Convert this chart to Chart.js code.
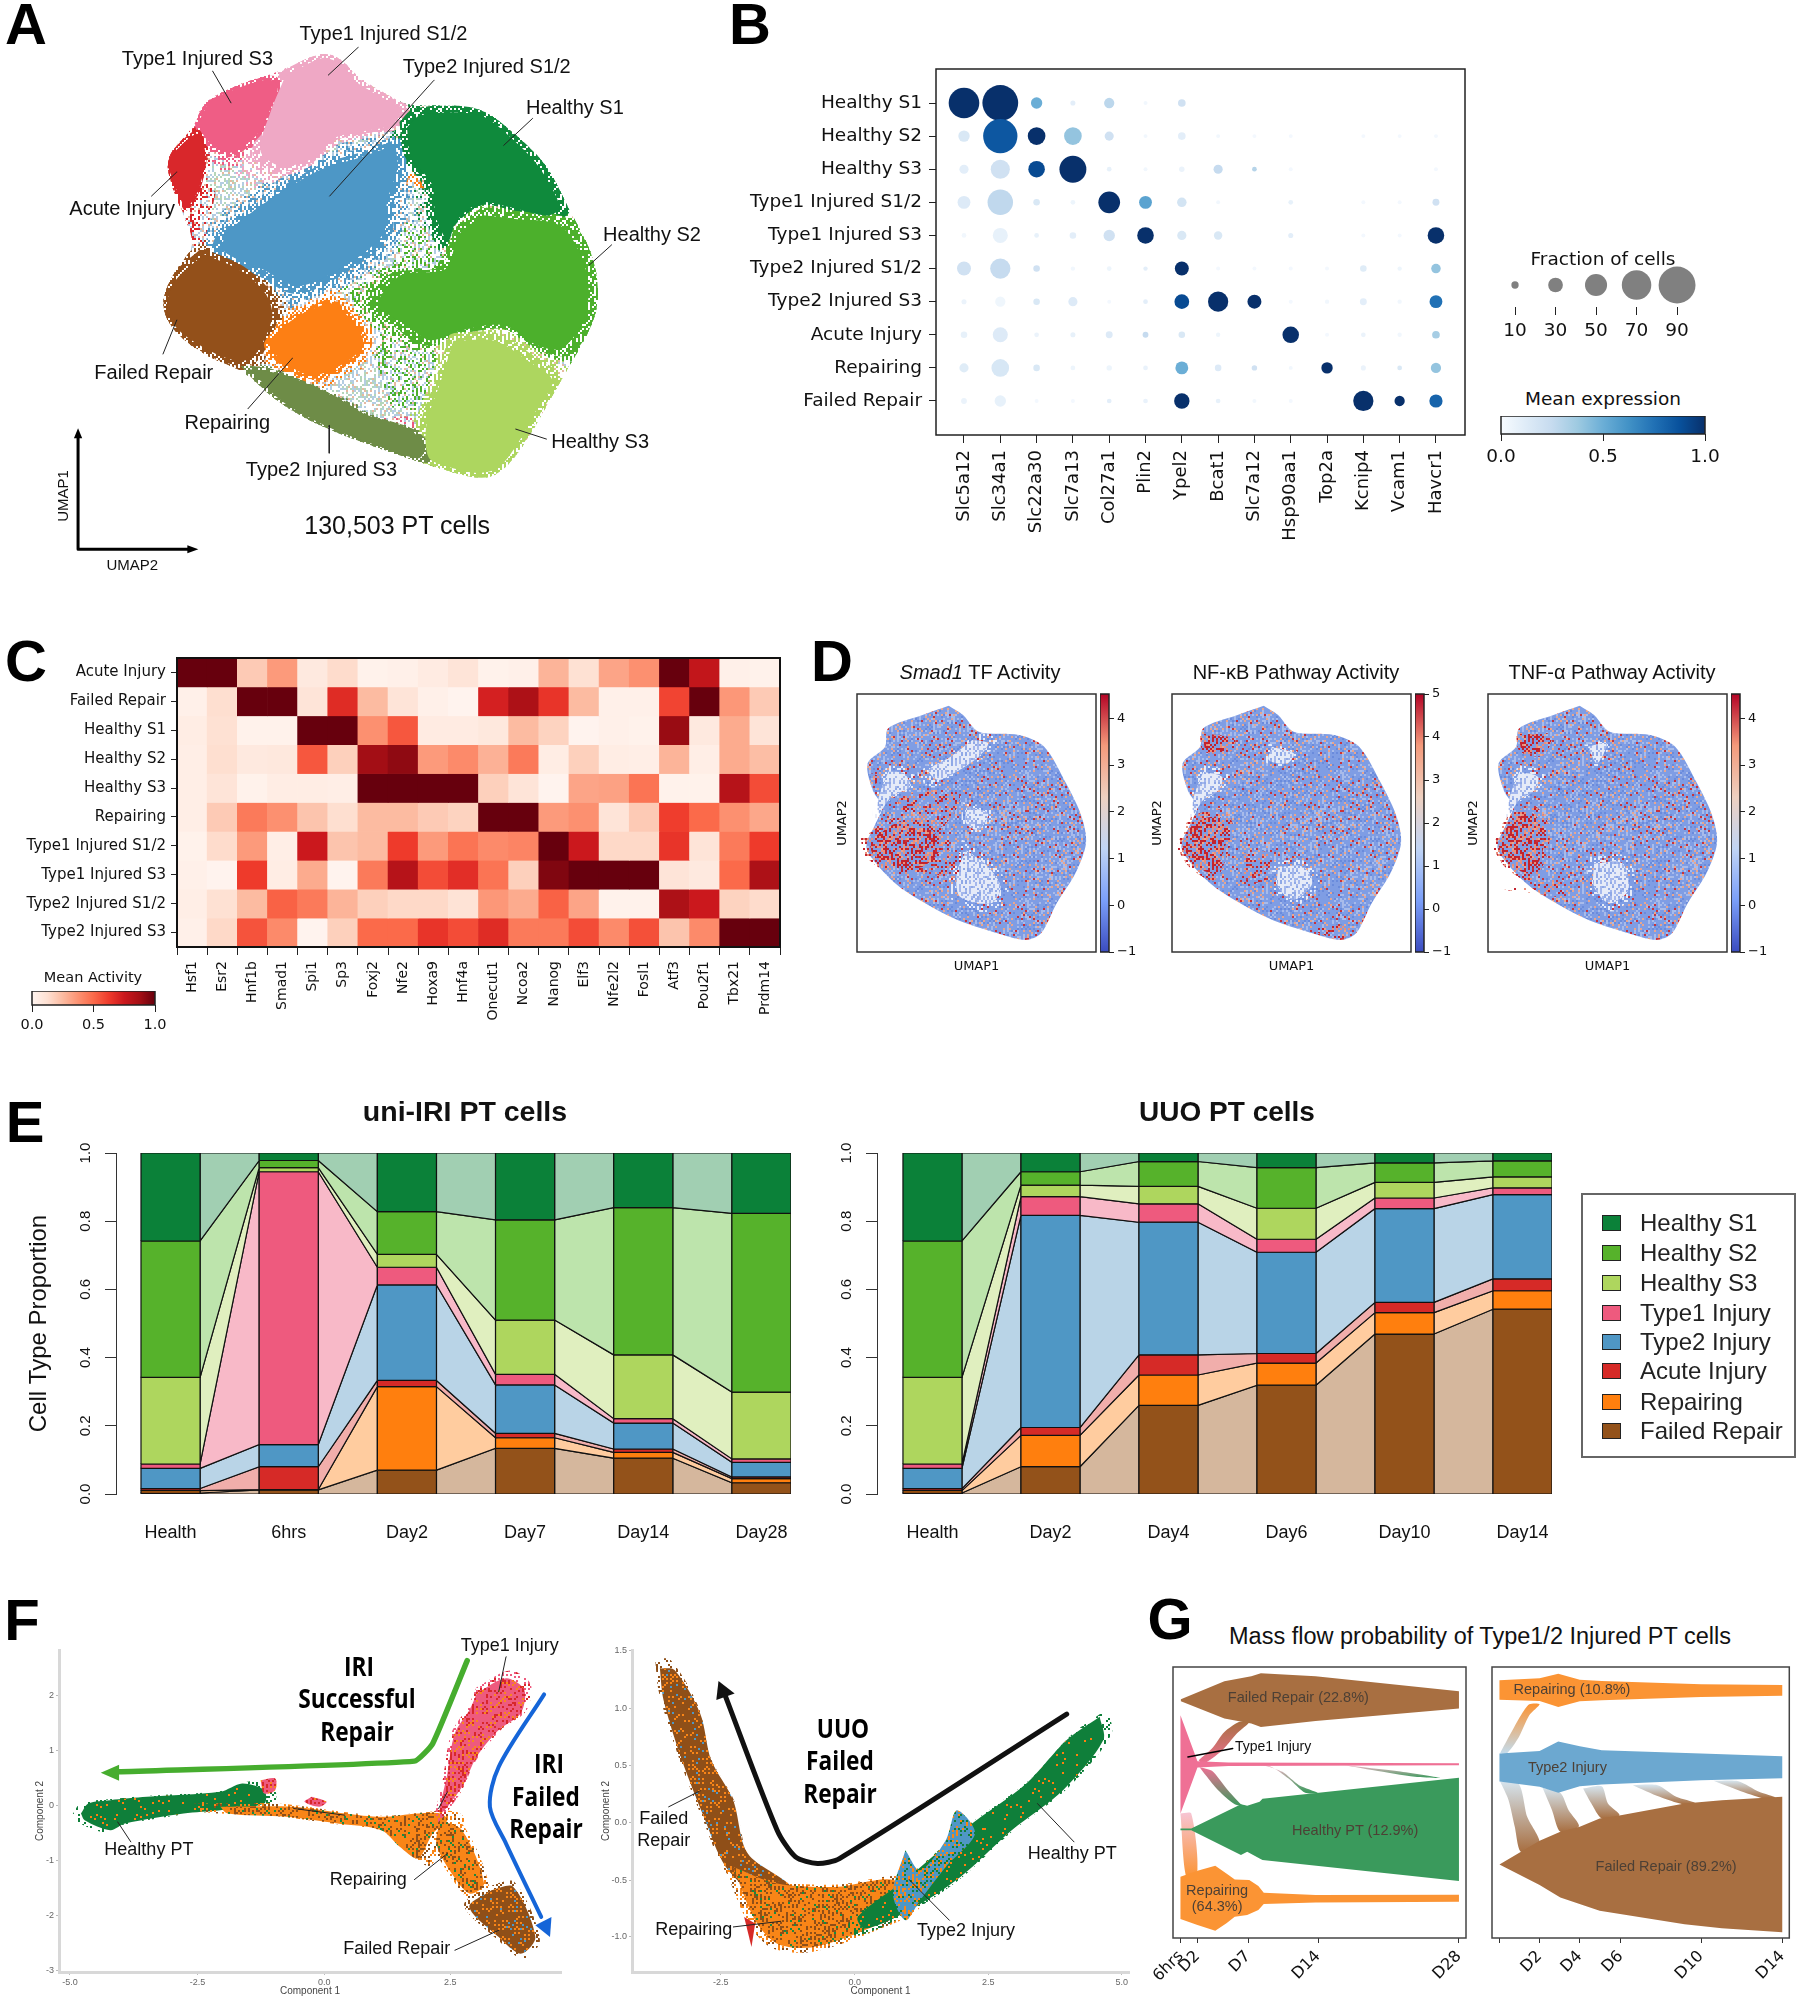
<!DOCTYPE html>
<html>
<head>
<meta charset="utf-8">
<script src="https://cdn.jsdelivr.net/npm/chart.js@4"></script>
<style>
  html, body { margin: 0; background: #fff; }
  #stage { position: relative; width: 1800px; height: 2008px; overflow: hidden; background: #fff; }
  #stage canvas { position: absolute; }
  .t { position: absolute; transform: translate(-50%, -50%); white-space: nowrap; color: #111; line-height: 1; }
</style>
</head>
<body>
<div id="stage"></div>
<script>
// ---------- panel B: dot plot ----------
const dotGenes = ["Slc5a12","Slc34a1","Slc22a30","Slc7a13","Col27a1","Plin2","Ypel2","Bcat1","Slc7a12","Hsp90aa1","Top2a","Kcnip4","Vcam1","Havcr1"];
const dotRows = ["Healthy S1","Healthy S2","Healthy S3","Type1 Injured S1/2","Type1 Injured S3","Type2 Injured S1/2","Type2 Injured S3","Acute Injury","Repairing","Failed Repair"];
const dotFraction = [
  [73,87,21,4,18,1,11,0,0,0,0,0,0,0],
  [21,83,38,38,15,1,11,1,1,1,0,1,1,1],
  [15,42,35,63,3,1,5,15,3,1,0,0,0,1],
  [25,59,8,3,49,25,16,1,0,3,0,1,1,9],
  [3,31,3,8,21,35,15,13,0,4,0,1,1,35],
  [28,45,8,2,3,2,28,1,1,1,1,8,2,16],
  [4,18,8,15,1,3,30,45,28,1,2,9,2,25],
  [8,31,3,4,9,6,8,2,0,35,1,3,2,11],
  [15,38,8,3,5,3,25,8,5,1,21,4,3,18],
  [6,21,1,1,3,3,32,3,1,1,0,45,18,26]
];
const dotMean = [
  [1,1,.5,.1,.28,.03,.2,0,0,0,0,0,0,0],
  [.15,.85,1,.4,.2,.03,.1,.03,.02,.02,0,.02,.02,.02],
  [.1,.2,.9,1,.08,.03,.06,.25,.3,.02,0,0,0,.02],
  [.13,.27,.15,.05,1,.55,.18,.03,0,.08,0,.02,.02,.2],
  [.03,.08,.08,.1,.2,1,.15,.15,0,.1,0,.02,.02,1],
  [.2,.25,.2,.03,.05,.1,1,.02,.02,.02,.02,.12,.05,.4],
  [.06,.04,.15,.13,.02,.1,.9,1,1,.02,.03,.1,.03,.75],
  [.08,.13,.06,.08,.13,.25,.15,.05,0,1,.02,.06,.03,.35],
  [.12,.16,.15,.05,.05,.07,.5,.13,.2,.03,1,.06,.15,.4],
  [.06,.08,.02,.02,.1,.07,1,.08,.03,.02,0,1,1,.8]
];
const sizeLegend = [10,30,50,70,90];

// ---------- panel C: heat map ----------
const heatGenes = ["Hsf1","Esr2","Hnf1b","Smad1","Spi1","Sp3","Foxj2","Nfe2","Hoxa9","Hnf4a","Onecut1","Ncoa2","Nanog","Elf3","Nfe2l2","Fosl1","Atf3","Pou2f1","Tbx21","Prdm14"];
const heatRows = ["Acute Injury","Failed Repair","Healthy S1","Healthy S2","Healthy S3","Repairing","Type1 Injured S1/2","Type1 Injured S3","Type2 Injured S1/2","Type2 Injured S3"];
const heatValues = [
  [1,1,.2,.35,.07,.14,.02,.03,.06,.1,.02,.03,.27,.12,.32,.38,1,.78,.03,.02],
  [.03,.13,1,1,.1,.68,.25,.1,.03,.01,.72,.85,.65,.25,.03,.03,.6,1,.36,.2],
  [.05,.12,.02,.02,1,1,.38,.55,.06,.06,.08,.25,.17,.01,.03,.02,.9,.07,.3,.1],
  [.04,.13,.07,.08,.55,.18,.88,.92,.35,.4,.28,.45,.05,.18,.05,.04,.27,.04,.3,.24],
  [.04,.1,.02,.05,.05,.04,1,1,1,1,.18,.1,.01,.32,.33,.47,.02,.02,.82,.58],
  [.04,.2,.45,.38,.22,.13,.25,.25,.2,.17,1,1,.35,.38,.1,.2,.62,.5,.38,.31],
  [.02,.14,.35,.04,.75,.22,.25,.63,.35,.47,.4,.42,1,.75,.15,.15,.65,.1,.45,.63],
  [.03,.01,.63,.05,.3,.01,.45,.82,.58,.67,.47,.18,.95,1,1,1,.1,.07,.5,.85],
  [.04,.12,.25,.52,.45,.27,.18,.15,.15,.11,.36,.3,.52,.32,.02,.02,.85,.75,.17,.14],
  [.03,.15,.56,.4,.01,.18,.5,.5,.65,.58,.68,.45,.45,.58,.4,.57,.22,.4,1,1]
];

// ---------- panel E: proportions per sample, bottom of the stack first ----------
const cellTypes = ["Failed Repair","Repairing","Acute Injury","Type2 Injury","Type1 Injury","Healthy S3","Healthy S2","Healthy S1"];
const typeColors = ["#93521a","#ff7f0e","#d62a27","#4f97c5","#ee5a7e","#aed65e","#56b22b","#0b8139"];
const typeLight = ["#d5b79d","#ffcc9f","#f1aeab","#b9d4e7","#f8b9c8","#e0efbf","#bde4ac","#a1cfb2"];
const iriSamples = ["Health","6hrs","Day2","Day7","Day14","Day28"];
const iriProportions = [
  [.003,.012,.07,.134,.105,.033],
  [.007,.001,.245,.031,.017,.012],
  [.006,.067,.018,.013,.010,.005],
  [.059,.065,.28,.142,.076,.043],
  [.013,.80,.052,.031,.013,.010],
  [.254,.012,.038,.159,.187,.196],
  [.40,.021,.125,.294,.432,.524],
  [.258,.022,.172,.196,.16,.177]
];
const uuoSamples = ["Health","Day2","Day4","Day6","Day10","Day14"];
const uuoProportions = [
  [.003,.08,.26,.319,.469,.542],
  [.007,.092,.089,.065,.063,.054],
  [.006,.023,.059,.028,.03,.035],
  [.059,.622,.389,.297,.275,.247],
  [.013,.055,.054,.038,.031,.02],
  [.254,.034,.051,.091,.046,.032],
  [.40,.039,.073,.119,.057,.047],
  [.258,.055,.025,.043,.029,.023]
];
const legendOrder = ["Healthy S1","Healthy S2","Healthy S3","Type1 Injury","Type2 Injury","Acute Injury","Repairing","Failed Repair"];

// ---------- panel A: cluster outlines ----------
const umapOutline = [[700,138],[745,160],[780,210],[860,268],[895,288],[1000,283],[1060,300],[1130,370],[1195,450],[1240,570],[1290,680],[1306,790],[1292,880],[1225,1020],[1145,1200],[1090,1282],[1040,1297],[935,1258],[820,1210],[700,1155],[600,1085],[530,1000],[450,965],[380,900],[350,830],[370,750],[415,680],[420,640],[395,570],[352,430],[425,345],[440,275],[530,222],[610,195]];
const umapClusters = [
  ["#efa8c5",[[610,195],[700,140],[745,160],[780,210],[860,270],[890,290],[870,340],[800,360],[730,380],[680,440],[600,465],[550,420],[575,300]]],
  ["#ef5d85",[[450,265],[530,225],[595,205],[615,230],[595,300],[565,370],[500,425],[450,395],[425,340],[440,290]]],
  ["#d9272b",[[355,430],[430,350],[450,400],[445,470],[430,530],[405,570],[385,530]]],
  ["#4d97c6",[[880,370],[885,440],[860,540],[850,640],[750,740],[645,795],[560,745],[465,690],[470,640],[530,575],[600,515],[700,445],[790,410]]],
  ["#0f8a3c",[[870,330],[900,295],[1000,285],[1060,300],[1130,370],[1190,450],[1240,570],[1210,595],[1120,570],[1050,555],[990,610],[970,670],[940,600],[930,500],[880,420]]],
  ["#4cb02c",[[1050,560],[1120,570],[1235,590],[1290,690],[1305,790],[1290,880],[1240,960],[1180,950],[1100,890],[1000,905],[920,935],[860,885],[795,830],[850,740],[960,720],[990,620]]],
  ["#add65f",[[980,900],[1080,900],[1160,960],[1220,1020],[1180,1110],[1140,1200],[1090,1280],[1040,1297],[960,1275],[920,1250],[915,1150],[950,1020]]],
  ["#6e8c47",[[520,985],[600,1000],[680,1040],[760,1090],[800,1120],[900,1160],[945,1215],[930,1252],[820,1210],[700,1152],[600,1082]]],
  ["#93501a",[[440,670],[530,720],[590,790],[605,860],[565,970],[530,990],[470,970],[380,900],[350,830],[370,750]]],
  ["#fd7f14",[[720,805],[775,860],[802,930],[760,985],[680,1025],[615,990],[575,930],[640,850]]]
];
const umapScatter = [
  ["#d9272b",[[400,560],[440,480],[470,520],[440,680],[400,690]]],
  ["#4cb02c",[[880,600],[1000,640],[1050,560],[1040,700],[850,740]]],
  ["#4cb02c",[[800,900],[950,950],[950,1120],[850,1100]]],
  ["#fd7f14",[[880,460],[920,450],[925,510],[885,500]]],
  ["#ee5a7e",[[790,1130],[900,1125],[905,1165],[830,1165]]]
];
const umapLeaders = [
  [[780,128],[715,203]],[[463,192],[503,278]],[[945,217],[718,530]],[[1160,320],[1097,393]],[[1332,662],[1283,717]],
  [[385,465],[330,530]],[[385,865],[355,957]],[[637,968],[540,1105]],[[717,1150],[717,1225]],[[1123,1160],[1190,1187]]
];

// ---------- panel D: activity outline and hot / cold zones ----------
const activityOutline = [[222,197],[245,225],[270,275],[335,285],[375,320],[410,430],[435,530],[442,610],[425,700],[395,790],[370,880],[345,900],[300,880],[230,835],[150,750],[110,680],[90,620],[105,550],[115,500],[100,450],[92,370],[120,320],[125,265],[180,225]];
const smadCold = [[[260,300],[285,310],[270,350],[230,400],[205,420],[190,390],[225,350]],[[125,395],[150,400],[160,440],[130,470],[110,520],[110,470]],[[250,630],[285,680],[305,740],[290,790],[240,770],[235,700]],[[250,500],[285,520],[270,570],[250,550]]];
const smadHot = [[[95,600],[150,540],[190,560],[210,620],[180,680],[130,680],[100,640]],[[98,400],[110,410],[105,432]]];
const smadWarm = [[[140,470],[200,450],[240,470],[210,560],[150,540]],[[190,650],[240,640],[235,710],[200,700]]];
const nfkbCold = [[[125,395],[155,410],[150,450],[125,480],[110,520],[110,470]],[[245,680],[285,680],[300,730],[270,780],[245,740]],[[235,320],[270,340],[260,370],[230,360]]];
const nfkbHot = [[[92,620],[110,550],[150,530],[165,570],[155,650],[140,700],[110,670]],[[125,285],[170,300],[165,330],[130,330]]];
const nfkbWarm = [[[190,640],[230,640],[225,720],[190,720]],[[300,860],[360,860],[350,895],[310,880]]];
const tnfCold = [[[125,395],[155,410],[150,450],[125,480],[110,520],[110,470]],[[245,670],[290,670],[300,750],[270,790],[245,740]],[[235,320],[265,310],[250,370]]];
const tnfHot = [[[92,620],[110,550],[145,520],[165,570],[160,650],[140,700],[110,670]],[[125,285],[170,290],[160,340],[130,330]]];
const tnfWarm = [[[100,750],[190,720],[200,770],[150,760]]];
const smadTicks = [-1,0,1,2,3,4];
const nfkbTicks = [-1,0,1,2,3,4,5];

// ---------- panel F: pseudotime ribbons ----------
const iriHealthy = [[110,640],[120,610],[150,600],[200,590],[300,575],[330,550],[360,570],[360,610],[300,630],[250,640],[170,670],[150,690],[115,660]];
const iriPinkSpots = [[[355,540],[375,535],[375,570],[360,580]],[[425,590],[445,605],[435,620],[415,605]]];
const iriOrange = [[[300,620],[400,620],[470,640],[520,650],[570,640],[600,640],[610,660],[590,700],[570,775],[545,740],[520,690],[460,670],[390,650],[310,640]],[[600,660],[630,690],[660,850],[640,880],[610,800],[595,730]]];
const iriUpper = [[650,280],[690,235],[715,270],[710,340],[680,390],[650,470],[630,560],[600,640],[610,520],[620,400],[640,330]];
const iriBrown = [[670,870],[700,860],[730,1010],[710,1060],[680,1010],[640,920]];
const uuoBrown = [[900,205],[920,210],[955,340],[970,480],[1000,600],[1020,760],[1080,860],[1100,960],[1040,900],[990,800],[960,650],[930,480],[905,300]];
const uuoOrange = [[1000,800],[1060,850],[1140,860],[1220,840],[1240,920],[1190,980],[1110,1040],[1060,1030],[1030,960]];
const uuoRed = [[1015,950],[1030,970],[1025,1040]];
const uuoBlue = [[1235,750],[1255,810],[1290,720],[1305,630],[1330,700],[1290,800],[1255,900],[1235,960],[1218,880]];
const uuoGreen = [[1500,350],[1505,420],[1450,570],[1380,690],[1310,830],[1240,930],[1180,985],[1170,950],[1240,830],[1320,680],[1400,550],[1455,420]];
const iriGreenArrow = [[637,182],[590,430],[565,483],[160,515]];
const iriGreenHead = [[137,518],[162,494],[162,542]];
const iriBlueArrow = [[742,283],[680,500],[668,620],[690,730],[738,950]];
const iriBlueHead = [[750,1010],[730,975],[752,950]];
const uuoArrow = [[1455,342],[1145,775],[1115,790],[1085,770],[1060,690],[988,280]];
const uuoHead = [[980,243],[977,300],[1002,280]];
const iriLeaders = [[[690,170],[680,275]],[[160,665],[178,725]],[[400,625],[470,645]],[[610,760],[565,838]],[[620,1050],[680,990]],[[610,575],[598,625]]];
const uuoLeaders = [[[955,572],[912,620]],[[1000,980],[1065,963]],[[1240,838],[1295,960]],[[1415,610],[1465,725]]];

// ---------- panel G: mass flow bands ----------
const massDaysIri = [75,115,237,406,746];
const massLabelsIri = ["6hrs","D2","D7","D14","D28"];
const massDaysUuo = [843,940,1037,1136,1330,1526];
const massLabelsUuo = ["","D2","D4","D6","D10","D14"];
const iriFailedBand = [[75,297],[180,243],[245,228],[268,219],[400,228],[746,273],[746,325],[400,362],[268,380],[245,370],[180,355],[75,303]];
const iriType1Band = [[74,345],[115,483],[190,487],[746,489],[746,495],[190,497],[115,502],[74,640]];
const iriHealthyBand = [[74,685],[100,685],[220,612],[235,617],[265,605],[272,596],[746,533],[746,843],[272,780],[265,775],[235,755],[220,765],[100,690],[74,690]];
const iriRepairBand = [[74,830],[115,812],[158,797],[190,825],[205,838],[240,840],[262,858],[275,878],[400,885],[746,884],[746,905],[400,907],[275,912],[262,930],[235,945],[205,950],[185,970],[158,992],[115,975],[74,957]];
const iriFlows = [
  ["#a86f41","#ef7095",[[118,480],[150,445],[180,395],[215,365],[240,365],[210,400],[175,450],[128,492]]],
  ["#ef7095","#3a9a5c",[[120,500],[150,512],[185,565],[220,612],[235,618],[205,612],[165,570],[135,525]]],
  ["#f3b5c8","#3a9a5c",[[245,495],[290,498],[335,535],[375,578],[405,578],[360,555],[320,515],[280,497]]],
  ["#f3b5c8","#3a9a5c",[[470,495],[600,513],[700,533],[640,530],[540,510]]],
  ["#f7c4d2","#fb9434",[[74,640],[100,640],[115,810],[88,830]]]
];
const uuoRepairBand = [[843,240],[940,234],[985,220],[1037,238],[1090,242],[1330,252],[1526,254],[1526,286],[1330,290],[1090,300],[1037,303],[985,320],[940,302],[843,298]];
const uuoType2Band = [[843,460],[940,452],[985,424],[1037,438],[1090,450],[1330,460],[1526,468],[1526,534],[1330,540],[1090,553],[1037,558],[985,578],[940,560],[843,544]];
const uuoFailedBand = [[843,793],[940,722],[990,695],[1037,680],[1085,655],[1136,645],[1290,610],[1380,600],[1526,590],[1526,997],[1380,985],[1290,973],[1085,932],[990,892],[940,855]];
const uuoFlows = [
  ["#fb9434","#c4dbea",[[845,458],[870,400],[895,345],[915,312],[940,312],[915,345],[890,410],[862,458]]],
  ["#d5e3ec","#a86f41",[[845,545],[890,552],[910,650],[940,728],[895,755],[880,680],[865,600]]],
  ["#d5e3ec","#a86f41",[[947,563],[990,578],[1010,630],[1035,678],[990,695],[970,630]]],
  ["#d5e3ec","#a86f41",[[1045,565],[1090,558],[1105,610],[1133,645],[1090,655],[1065,610]]],
  ["#d5e3ec","#a86f41",[[1165,555],[1225,555],[1270,590],[1315,608],[1285,612],[1230,590]]],
  ["#d5e3ec","#a86f41",[[1360,542],[1420,543],[1470,575],[1510,592],[1480,594],[1420,570]]]
];

// ---------- colour maps ----------
const BLUES = ["#f7fbff","#deebf7","#c6dbef","#9ecae1","#6baed6","#4292c6","#2171b5","#08519c","#08306b"];
const REDS = ["#fff5f0","#fee0d2","#fcbba1","#fc9272","#fb6a4a","#ef3b2c","#cb181d","#a50f15","#67000d"];
const COOLWARM = ["#3b4cc0","#7b9ff9","#c0d4f5","#eed0c0","#f49a7b","#b40426"];

function hex(c) { return [1,3,5].map(i => parseInt(c.substr(i,2),16)); }
function sampleMap(stops, v) {
  const p = Math.max(0, Math.min(1, v)) * (stops.length - 1), i = Math.min(Math.floor(p), stops.length - 2), f = p - i;
  const a = hex(stops[i]), b = hex(stops[i+1]);
  return "rgb(" + a.map((x,k) => Math.round(x + (b[k]-x)*f)).join(",") + ")";
}

// ---------- helpers ----------
const stage = document.getElementById("stage");
const DEJAVU = "'DejaVu Sans'", ARIAL = "'Liberation Sans'";
Chart.defaults.font.family = ARIAL;
Chart.defaults.color = "#111";

Chart.register({ id: "frame", afterDraw(chart, _, o) {
  if (!o.color) return;
  const a = chart.chartArea, c = chart.ctx;
  c.save(); c.strokeStyle = o.color; c.lineWidth = o.width || 1.5;
  c.strokeRect(a.left, a.top, a.right - a.left, a.bottom - a.top); c.restore();
}});

function txt(str, x, y, size, font, o = {}) {
  const d = document.createElement("div");
  d.className = "t";
  d.innerHTML = str;
  d.style.left = x + "px"; d.style.top = y + "px";
  d.style.font = (o.weight || "normal") + " " + size + "px " + font;
  if (o.color) d.style.color = o.color;
  if (o.rot) d.style.transform = "translate(-50%,-50%) rotate(" + o.rot + "deg)";
  if (o.sx) d.style.transform = "translate(-50%,-50%) scaleX(" + o.sx + ")";
  stage.appendChild(d);
}

// can / plot are [left, top, right, bottom] in page pixels; padding is nudged until the plot area lands on plot
function mk(can, plot, type, data, options, plugins) {
  const c = document.createElement("canvas");
  c.width = can[2] - can[0]; c.height = can[3] - can[1];
  c.style.left = can[0] + "px"; c.style.top = can[1] + "px";
  stage.appendChild(c);
  const { x, y } = options.scales;
  const yHidden = y.display === false, xHidden = x.display === false, yRight = y.position === "right";
  const pad = { top: plot[1] - can[1], right: 0, bottom: 0, left: 0 };
  let yw = yRight ? can[2] - plot[2] : plot[0] - can[0], xh = can[3] - plot[3];
  if (yHidden || yRight) pad.left = plot[0] - can[0];
  if (yHidden || !yRight) pad.right = can[2] - plot[2];
  if (xHidden) pad.bottom = can[3] - plot[3];
  if (!yHidden) y.afterFit = s => { s.width = yw; };
  if (!xHidden) x.afterFit = s => { s.height = xh; };
  options.layout = { autoPadding: false, padding: Object.assign({}, pad) };
  options.responsive = false; options.animation = false; options.events = [];
  options.plugins = Object.assign({ legend: { display: false }, tooltip: { enabled: false } }, options.plugins);
  const chart = new Chart(c, { type, data, options, plugins: plugins || [] });
  for (let i = 0; i < 4; i++) {
    const a = chart.chartArea;
    const dT = plot[1] - (can[1] + a.top), dB = can[1] + a.bottom - plot[3], dL = plot[0] - (can[0] + a.left), dR = can[0] + a.right - plot[2];
    if (Math.max(Math.abs(dT), Math.abs(dB), Math.abs(dL), Math.abs(dR)) < 0.25) break;
    pad.top = Math.max(0, pad.top + dT);
    if (xHidden) pad.bottom = Math.max(0, pad.bottom + dB); else xh += dB;
    if (yHidden) { pad.left = Math.max(0, pad.left + dL); pad.right = Math.max(0, pad.right + dR); }
    else if (yRight) { pad.left = Math.max(0, pad.left + dL); yw += dR; }
    else { yw += dL; pad.right = Math.max(0, pad.right + dR); }
    chart.config.options.layout.padding = Object.assign({}, pad);
    chart.update("none");
  }
  return chart;
}

function hidden(min, max, reverse) { return { type: "linear", display: false, min, max, reverse: !!reverse }; }
function ticked(values, labels, scale) {
  scale.type = "linear";
  scale.afterBuildTicks = s => { s.ticks = values.map(v => ({ value: v })); };
  scale.ticks = Object.assign({ autoSkip: false }, scale.ticks, { callback: v => labels[values.indexOf(v)] });
  return scale;
}
function tickGrid(len, color) { return { drawOnChartArea: false, drawTicks: true, tickLength: len, color: color || "#222" }; }

function pts(list) { return list.map(p => ({ x: p[0], y: p[1] })); }
function poly(list, fill, extra) {
  return Object.assign({ data: pts(list.concat([list[0]])), showLine: true, fill: "shape", backgroundColor: fill, borderWidth: 0, borderColor: "rgba(0,0,0,0)", pointRadius: 0, tension: 0 }, extra);
}
function line(list, color, width, extra) {
  return Object.assign({ data: pts(list), showLine: true, fill: false, borderColor: color, borderWidth: width, pointRadius: 0, tension: 0, borderJoinStyle: "round", borderCapStyle: "round" }, extra);
}
// grown copy of an outline, used for the loose dots around a cluster
function grown(list, k) {
  const cx = list.reduce((s,p) => s + p[0], 0) / list.length, cy = list.reduce((s,p) => s + p[1], 0) / list.length;
  return list.map(p => [cx + (p[0]-cx)*k, cy + (p[1]-cy)*k]);
}
// vertical colour fade across a band
function fade(top, bottom, list) {
  const ys = list.map(p => p[1]), y0 = Math.min(...ys), y1 = Math.max(...ys);
  return ctx => {
    const ch = ctx.chart;
    if (!ch.chartArea) return top;
    const g = ch.ctx.createLinearGradient(0, ch.scales.y.getPixelForValue(y0), 0, ch.scales.y.getPixelForValue(y1));
    g.addColorStop(0, top); g.addColorStop(1, bottom);
    return g;
  };
}

// speckle texture, looked up from a fixed dot tile so it does not read as a grid
const TILE = [
 "#..#.....#..#....#...#..","....#.#.....#.#......#.#",".#.......#.....#.#.#....","...#.#.#....#.......#.#.",
 "#.......#.#...#.#.#.....","..#.#.......#.......#..#",".....#.#.#.....#.#....#.","#.#.......#.#.......#...",
 "....#.#.......#.#.#...#.",".#.....#.#.#.......#....","...#.......#.#.#.....#.#","#...#.#.#.......#.#.....",
 "..#.....#.#.#.......#.#.","......#.....#.#.#.#.....",".#.#.....#.......#.#..#.","...#.#.#...#.#.......#.."
];
function tex(base, layers, cell = 2) {
  const W = 96, H = 64;
  const c = document.createElement("canvas");
  c.width = W * cell; c.height = H * cell;
  const g = c.getContext("2d");
  if (base) { g.fillStyle = base; g.fillRect(0, 0, c.width, c.height); }
  layers.forEach(([color, every], n) => {
    g.fillStyle = color;
    for (let r = 0; r < H; r++) for (let k = 0; k < W; k++) {
      const row = TILE[(r * 7 + (k >> 3) * 3 + n * 5) % 16];
      if (row[(k * 5 + (r >> 2) * 11 + n * 7) % 24] === "#" && (r * 13 + k * 11 + n) % every === 0) g.fillRect(k*cell, r*cell, cell, cell);
    }
  });
  return g.createPattern(c, "repeat");
}

// drawing order: chart.js paints the first dataset last
const onTop = list => list.slice().reverse();

function colorBar(can, plot, stops, min, max, ticks, vertical, fmt, size) {
  const grad = ctx => {
    const a = ctx.chart.chartArea;
    if (!a) return stops[0];
    const g = vertical ? ctx.chart.ctx.createLinearGradient(0, a.bottom, 0, a.top) : ctx.chart.ctx.createLinearGradient(a.left, 0, a.right, 0);
    stops.forEach((s, i) => g.addColorStop(i / (stops.length - 1), s));
    return g;
  };
  const valueAxis = ticked(ticks, ticks.map(fmt), {
    min, max,
    grid: tickGrid(vertical ? 5 : 7), border: { display: false },
    ticks: { padding: vertical ? 3 : 5, font: { family: DEJAVU, size }, maxRotation: 0 }
  });
  const catAxis = { type: "category", display: false };
  if (vertical) valueAxis.position = "right";
  mk(can, plot, "bar", { labels: [""], datasets: [{ data: [[min, max]], backgroundColor: grad, barPercentage: 1, categoryPercentage: 1, borderWidth: 0 }] }, {
    indexAxis: vertical ? "x" : "y",
    scales: vertical ? { x: catAxis, y: valueAxis } : { x: valueAxis, y: catAxis },
    plugins: { frame: { color: "#222", width: 1.5 } }
  });
}

// ---------- panel letters ----------
[["A",26,23],["B",750,23],["C",26,660],["D",832,660],["E",25,1121],["F",22,1619],["G",1170,1618]].forEach(l => txt(l[0], l[1], l[2], 58, ARIAL, { weight: "bold", color: "#000" }));

// ---------- A ----------
{
  const zA = (x, y) => [x * 720 / 1568, y * 580 / 1568];
  const T = { tension: .3 };
  const ds = [poly(umapOutline, tex("#ffffff", [["#b5d6ba", 1], ["#b3cde2", 1], ["#e6b9a0", 3]]))];
  umapClusters.forEach(([c, o]) => ds.push(poly(grown(o, 1.3), tex(null, [[c, 2]]), T)));
  umapClusters.forEach(([c, o]) => ds.push(poly(grown(o, 1.18), tex(null, [[c, 1]]), T)));
  umapScatter.forEach(([c, o]) => ds.push(poly(o, tex(null, [[c, 1]]))));
  umapClusters.forEach(([c, o]) => ds.push(poly(grown(o, 1.08), tex(null, [[c, 1], [c, 1]]), T)));
  umapClusters.forEach(([c, o]) => ds.push(poly(o, tex(null, [[c, 1], [c, 1], [c, 1], [c, 1], [c, 1]]), T)));
  umapClusters.forEach(([c, o]) => ds.push(poly(grown(o, .9), c, T)));
  // everything stays inside the cloud's silhouette
  const silhouette = {
    id: "silhouette",
    beforeDatasetsDraw(ch) {
      const g = ch.ctx, P = umapOutline.map(p => [ch.scales.x.getPixelForValue(p[0]), ch.scales.y.getPixelForValue(p[1])]), n = P.length;
      const mid = (a, b) => [(a[0]+b[0])/2, (a[1]+b[1])/2];
      g.save(); g.beginPath();
      let m = mid(P[n-1], P[0]); g.moveTo(m[0], m[1]);
      P.forEach((p, i) => { m = mid(p, P[(i+1)%n]); g.quadraticCurveTo(p[0], p[1], m[0], m[1]); });
      g.clip();
    },
    afterDatasetsDraw(ch) { ch.ctx.restore(); }
  };
  mk([0,0,720,580], [0,0,720,580], "scatter", { datasets: onTop(ds) }, { scales: { x: hidden(0,1568), y: hidden(0,1568,true) } }, [silhouette]).canvas.style.filter = "blur(0.6px)";
  const notes = umapLeaders.map(l => line(l, "#222", 1));
  notes.push(line([[170,1175],[170,1485],[415,1485]], "#000", 3, { borderCapStyle: "butt" }));
  notes.push(poly([[170,1158],[161,1185],[179,1185]], "#000"));
  notes.push(poly([[432,1485],[408,1474],[408,1496]], "#000"));
  mk([0,0,720,580], [0,0,720,580], "scatter", { datasets: onTop(notes) }, { scales: { x: hidden(0,1568), y: hidden(0,1568,true) } });
  [["Type1 Injured S1/2",835,90],["Type1 Injured S3",430,158],["Type2 Injured S1/2",1060,178],["Healthy S1",1252,290],["Healthy S2",1420,633],["Acute Injury",266,562],["Failed Repair",335,1005],["Repairing",495,1140],["Type2 Injured S3",700,1267],["Healthy S3",1307,1192]]
    .forEach(l => { const p = zA(l[1], l[2]); txt(l[0], p[0], p[1], 20, ARIAL); });
  let p = zA(865,1420); txt("130,503 PT cells", p[0], p[1], 25, ARIAL);
  p = zA(135,1340); txt("UMAP1", p[0], p[1], 15, ARIAL, { rot: -90 });
  p = zA(288,1525); txt("UMAP2", p[0], p[1], 15, ARIAL);
}

// ---------- B ----------
{
  const radius = f => f > 0 ? 1.8 + 0.185 * f : 0;
  const cells = [], colors = [];
  dotRows.forEach((_, r) => dotGenes.forEach((_, g) => {
    cells.push({ x: g, y: r, r: radius(dotFraction[r][g]) });
    colors.push(sampleMap(BLUES, dotMean[r][g]));
  }));
  mk([700,30,1500,600], [936,69,1465,435], "bubble", { datasets: [{ data: cells, backgroundColor: colors, borderWidth: 0 }] }, {
    scales: {
      x: ticked(dotGenes.map((_, i) => i), dotGenes, { min: -0.771, max: 13.8, grid: tickGrid(8), border: { display: false }, ticks: { minRotation: 90, maxRotation: 90, padding: 7, font: { family: DEJAVU, size: 18 } } }),
      y: ticked(dotRows.map((_, i) => i), dotRows, { min: -1.027, max: 10.027, reverse: true, grid: tickGrid(7), border: { display: false }, ticks: { padding: 7, font: { family: DEJAVU, size: 18.5 } } })
    },
    plugins: { frame: { color: "#222", width: 1.5 } }
  });
  mk([1490,255,1720,345], [1490,263,1720,307], "bubble", { datasets: [{ data: sizeLegend.map(f => ({ x: f, y: 0.5, r: radius(f) })), backgroundColor: "#808080", borderWidth: 0, clip: false }] }, {
    scales: {
      x: ticked(sizeLegend, sizeLegend.map(String), { min: -2.35, max: 111.2, grid: tickGrid(8), border: { display: false }, ticks: { padding: 5, maxRotation: 0, font: { family: DEJAVU, size: 18.5 } } }),
      y: hidden(0, 1)
    }
  });
  txt("Fraction of cells", 1603, 258, 18.5, DEJAVU);
  txt("Mean expression", 1603, 398, 18.5, DEJAVU);
  colorBar([1480,416,1735,470], [1501,416,1705,434], BLUES, 0, 1, [0,.5,1], false, v => v.toFixed(1), 18.5);
}

// ---------- C ----------
{
  const rows = heatRows.map((_, r) => ({
    data: heatValues[r].map(() => [r, r + 1]),
    backgroundColor: heatValues[r].map(v => sampleMap(REDS, v)),
    barPercentage: 1, categoryPercentage: 1, borderWidth: 0, grouped: false
  }));
  mk([0,630,810,1040], [177,658,780,947], "bar", { labels: heatGenes, datasets: rows }, {
    scales: {
      x: { type: "category", grid: tickGrid(8), border: { display: false }, ticks: { autoSkip: false, minRotation: 90, maxRotation: 90, padding: 6, font: { family: DEJAVU, size: 14 } } },
      y: ticked(heatRows.map((_, i) => i + .5), heatRows, { min: 0, max: 10, reverse: true, grid: tickGrid(6), border: { display: false }, ticks: { padding: 5, font: { family: DEJAVU, size: 15 } } })
    },
    plugins: { frame: { color: "#111", width: 2 } }
  });
  txt("Mean Activity", 93, 977, 14.5, DEJAVU);
  colorBar([10,991,185,1035], [32,991,155,1005], REDS, 0, 1, [0,.5,1], false, v => v.toFixed(1), 14.5);
}

// ---------- D ----------
{
  const T = { tension: .3 };
  const skin = tex("#7f9de4", [["#a8bbea", 1], ["#6a8bdc", 2], ["#c9333b", 5], ["#e9a58e", 3]]);
  const cold = tex("#e6ebf8", [["#8fa8e6", 1], ["#a4b7ec", 1]]);
  const cool = tex(null, [["#e8ecf8", 1]]);
  const hot = tex(null, [["#c2232e", 1], ["#e98f7c", 1], ["#c2232e", 2]]);
  const warm = tex(null, [["#c2232e", 2], ["#e98f7c", 2]]);
  const panels = [
    { left: 857, title: "<i>Smad1</i> TF Activity", cx: 980, coldZ: smadCold, hotZ: smadHot, warmZ: smadWarm, ticks: smadTicks, top: 4.52 },
    { left: 1172, title: "NF-κB Pathway Activity", cx: 1296, coldZ: nfkbCold, hotZ: nfkbHot, warmZ: nfkbWarm, ticks: nfkbTicks, top: 5 },
    { left: 1488, title: "TNF-α Pathway Activity", cx: 1612, coldZ: tnfCold, hotZ: tnfHot, warmZ: tnfWarm, ticks: smadTicks, top: 4.52 }
  ];
  panels.forEach(p => {
    const ds = [poly(activityOutline, skin, T)];
    p.coldZ.forEach(z => { ds.push(poly(grown(z, 1.35), cool, T)); ds.push(poly(z, cold, T)); });
    p.warmZ.forEach(z => ds.push(poly(z, warm, T)));
    p.hotZ.forEach(z => { ds.push(poly(grown(z, 1.25), warm, T)); ds.push(poly(z, hot, T)); });
    mk([p.left - 22, 680, p.left + 240, 974], [p.left, 694, p.left + 239, 952], "scatter", { datasets: onTop(ds) }, {
      scales: {
        x: { type: "linear", min: 75, max: 458, grid: { display: false }, border: { display: false }, ticks: { display: false }, title: { display: true, text: "UMAP1", font: { family: DEJAVU, size: 13 }, padding: 0 } },
        y: { type: "linear", min: 162, max: 936, reverse: true, grid: { display: false }, border: { display: false }, ticks: { display: false }, title: { display: true, text: "UMAP2", font: { family: DEJAVU, size: 13 }, padding: 0 } }
      },
      plugins: { frame: { color: "#333", width: 1.5 } }
    });
    txt(p.title, p.cx, 672, 20, ARIAL);
    colorBar([p.left + 243, 676, p.left + 284, 970], [p.left + 243, 694, p.left + 252, 952], COOLWARM, -1, p.top, p.ticks, true, v => v < 0 ? "\u2212" + Math.abs(v) : String(v), 13);
  });
}

// ---------- E ----------
function alluvial(props, samples, can, plot, xMin, yTitle) {
  const n = samples.length, ds = [];
  const base = samples.map(() => 0);
  cellTypes.forEach((_, t) => {
    const lo = base.slice();
    props[t].forEach((v, i) => { base[i] += v; });
    const hi = base.slice();
    for (let s = 0; s < n - 1; s++)
      ds.push(poly([[2*s+1,lo[s]],[2*s+2,lo[s+1]],[2*s+2,hi[s+1]],[2*s+1,hi[s]]], typeLight[t], { borderColor: "#111", borderWidth: 1.2 }));
    for (let s = 0; s < n; s++)
      ds.push(poly([[2*s,lo[s]],[2*s+1,lo[s]],[2*s+1,hi[s]],[2*s,hi[s]]], typeColors[t], { borderColor: "#111", borderWidth: 1.2 }));
  });
  const yTicks = [0,.2,.4,.6,.8,1];
  mk(can, plot, "scatter", { datasets: onTop(ds) }, {
    scales: {
      x: ticked(samples.map((_, i) => 2*i + .5), samples, { min: xMin, max: 11, grid: { display: false }, border: { display: false }, ticks: { padding: 20, maxRotation: 0, font: { family: ARIAL, size: 18 } } }),
      y: ticked(yTicks, yTicks.map(v => v.toFixed(1)), {
        min: 0, max: 1, grid: tickGrid(11, "#333"), border: { color: "#333", width: 1 },
        ticks: { minRotation: 90, maxRotation: 90, crossAlign: "center", padding: 9, font: { family: ARIAL, size: 15 } },
        title: yTitle ? { display: true, text: yTitle, font: { family: ARIAL, size: 24 }, padding: 0 } : undefined
      })
    }
  });
}
alluvial(iriProportions, iriSamples, [25,1120,825,1560], [116,1153,791,1494], -0.423, "Cell Type Proportion");
alluvial(uuoProportions, uuoSamples, [830,1120,1585,1560], [877,1153,1552,1494], -0.44, null);
txt("uni-IRI PT cells", 465, 1111, 28.5, ARIAL, { weight: "bold" });
txt("UUO PT cells", 1227, 1112, 28, ARIAL, { weight: "bold" });
{
  const box = document.createElement("div");
  box.style.cssText = "position:absolute;left:1581px;top:1193px;width:215px;height:265px;border:2px solid #666;box-sizing:border-box;";
  stage.appendChild(box);
  const ys = [1223,1253,1283,1313,1342,1371,1402,1431];
  legendOrder.forEach((name, i) => {
    const sw = document.createElement("div");
    sw.style.cssText = "position:absolute;left:1602px;top:" + (ys[i]-8) + "px;width:19px;height:16px;border:1px solid #222;box-sizing:border-box;background:" + typeColors[cellTypes.indexOf(name)];
    stage.appendChild(sw);
    const d = document.createElement("div");
    d.textContent = name;
    d.style.cssText = "position:absolute;left:1640px;top:" + (ys[i]-13) + "px;font:24px 'Liberation Sans';color:#222;line-height:26px;white-space:nowrap;";
    stage.appendChild(d);
  });
}

// ---------- F ----------
{
  const zF = (x, y) => [x * 1150 / 1568, 1600 + y / 3];
  const green = tex("#0f7f3a", [["#ff7f0e", 5]]), greenD = tex(null, [["#0f7f3a", 1]]);
  const orange = tex("#f98517", [["#8f4f18", 1], ["#1a8a40", 4]]), orangeD = tex(null, [["#f98517", 1], ["#8f4f18", 2]]);
  const pink = tex("#ee5a7e", [["#d8272b", 1], ["#f9861c", 2]]), pinkD = tex(null, [["#ee5a7e", 1], ["#d8272b", 2]]);
  const brown = tex("#8f4f18", [["#f98517", 2], ["#4f97c5", 5]]), brownD = tex(null, [["#8f4f18", 1]]);
  const blue = tex("#4f97c5", [["#f98517", 1], ["#0f7f3a", 2]]);
  const T = { tension: .3 };
  const left = [
    poly(grown(iriHealthy, 1.1), greenD, T), poly(iriHealthy, green, T),
    ...iriOrange.map(z => poly(grown(z, 1.2), orangeD, T)), ...iriOrange.map(z => poly(z, orange, T)),
    poly(grown(iriUpper, 1.14), pinkD, T), poly(iriUpper, pink, T),
    ...iriPinkSpots.map(z => poly(z, pink, T)),
    poly(grown(iriBrown, 1.15), brownD, T), poly(iriBrown, brown, T),
    line(iriGreenArrow, "#46ad2e", 5.5, { tension: .15 }), poly(iriGreenHead, "#46ad2e"),
    line(iriBlueArrow, "#1565d8", 4, { tension: .3 }), poly(iriBlueHead, "#1565d8"),
    ...iriLeaders.map(l => line(l, "#222", 1))
  ];
  const axisStyle = (vals, labs, extra) => ticked(vals, labs, Object.assign({
    grid: tickGrid(3, "#bbb"), border: { color: "#d8d8d8", width: 3 },
    ticks: { padding: 2, maxRotation: 0, color: "#666", font: { family: ARIAL, size: 9 } }
  }, extra));
  const title = text => ({ display: true, text, color: "#444", font: { family: ARIAL, size: 10 }, padding: 0 });
  mk([34,1620,565,1997], [59,1650,561,1972], "scatter", { datasets: onTop(left) }, {
    scales: {
      x: axisStyle([95,269,442,614], ["-5.0","-2.5","0.0","2.5"], { min: 80, max: 765, title: title("Component 1") }),
      y: axisStyle([287,452,615,780,945,1110], ["2","1","0","-1","-2","-3"], { min: 150, max: 1115, reverse: true, title: title("Component 2") })
    }
  });
  const right = [
    poly(grown(uuoBrown, 1.08), brownD, T), poly(uuoBrown, brown, T),
    poly(grown(uuoOrange, 1.12), orangeD, T), poly(uuoOrange, orange, T),
    poly(uuoRed, "#d62a27"),
    poly(grown(uuoGreen, 1.07), greenD, T), poly(uuoGreen, green, T),
    poly(uuoBlue, blue, T),
    line(uuoArrow, "#111", 5, { tension: .25 }), poly(uuoHead, "#111"),
    ...uuoLeaders.map(l => line(l, "#222", 1))
  ];
  mk([600,1620,1135,1997], [632,1650,1129,1972], "scatter", { datasets: onTop(right) }, {
    scales: {
      x: axisStyle([983,1166,1348,1530], ["-2.5","0.0","2.5","5.0"], { min: 862, max: 1540, title: title("Component 1") }),
      y: axisStyle([152,325,497,668,840,1010], ["1.5","1.0","0.5","0.0","-0.5","-1.0"], { min: 150, max: 1115, reverse: true, title: title("Component 2") })
    }
  });
  [["Type1 Injury",695,135],["Healthy PT",203,748],["Repairing",502,838],["Failed Repair",541,1043],["Failed",905,655],["Repair",905,720],["Repairing",946,988],["Type2 Injury",1317,990],["Healthy PT",1462,760]]
    .forEach(l => { const p = zF(l[1], l[2]); txt(l[0], p[0], p[1], 18, ARIAL); });
  [["IRI",490,195],["Successful",487,292],["Repair",487,390],["IRI",748,487],["Failed",744,585],["Repair",744,682],["UUO",1150,382],["Failed",1145,478],["Repair",1145,575]]
    .forEach(l => { const p = zF(l[1], l[2]); txt(l[0], p[0], p[1], 27, "'Open Sans'", { weight: "bold", color: "#000", sx: .84 }); });
}

// ---------- G ----------
{
  const zG = (x, y) => [1150 + x * 650 / 1568, 1600 + y / 3];
  const tickFont = { family: DEJAVU, size: 16 };
  const axis = (vals, labs, min, max) => ticked(vals, labs, { min, max, grid: tickGrid(5, "#333"), border: { display: false }, ticks: { minRotation: 45, maxRotation: 45, padding: 4, font: tickFont } });
  const flows = f => f.map(([a, b, o]) => poly(o, fade(a, b, o), { tension: .25 }));
  const leftG = [
    ...flows(iriFlows),
    poly(iriFailedBand, "#a86f41"), poly(iriType1Band, "#ef7095"), poly(iriHealthyBand, "#3a9a5c"), poly(iriRepairBand, "#fb9434"),
    line([[92,470],[200,445]], "#000", 1.5)
  ];
  mk([1130,1660,1480,2000], [1173,1667,1466,1938], "scatter", { datasets: onTop(leftG) }, {
    scales: { x: axis(massDaysIri, massLabelsIri, 56, 763), y: hidden(200, 1014, true) },
    plugins: { frame: { color: "#444", width: 1.5 } }
  });
  const rightG = [
    ...flows(uuoFlows),
    poly(uuoRepairBand, "#fb9434"), poly(uuoType2Band, "#6ca8d0"), poly(uuoFailedBand, "#a86f41")
  ];
  mk([1470,1660,1800,2000], [1492,1667,1790,1938], "scatter", { datasets: onTop(rightG) }, {
    scales: { x: axis(massDaysUuo, massLabelsUuo, 825, 1543), y: hidden(200, 1014, true) },
    plugins: { frame: { color: "#444", width: 1.5 } }
  });
  txt("Mass flow probability of Type1/2 Injured PT cells", 1480, 1636, 23.5, ARIAL);
  [["Failed Repair (22.8%)",358,292],["Healthy PT (12.9%)",495,690],["Repairing",162,871],["(64.3%)",162,918],["Repairing (10.8%)",1018,267],["Type2 Injury",1007,500],["Failed Repair (89.2%)",1245,798]]
    .forEach(l => { const p = zG(l[1], l[2]); txt(l[0], p[0], p[1], 14.5, ARIAL, { color: "#4d4035" }); });
  const p = zG(297,437); txt("Type1 Injury", p[0], p[1], 14, ARIAL);
}
</script>
</body>
</html>
